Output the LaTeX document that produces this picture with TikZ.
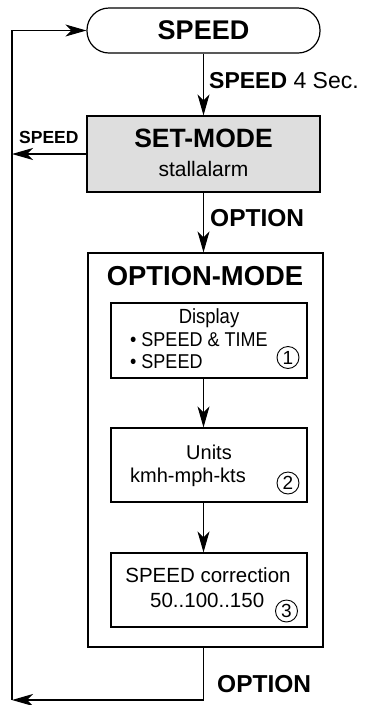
\documentclass[tikz,border=0pt]{standalone}
\usepackage{fontspec}
\setmainfont{Liberation Sans}
\newfontfamily\narrowfont[FakeStretch=0.9]{Liberation Sans}
\usetikzlibrary{arrows.meta}
\tikzset{
  x=1pt,y=-1pt,
  arr/.style={line width=1.2pt,-{Stealth[length=21pt,width=12pt,inset=6pt]}},
  box/.style={draw,line width=1.2pt,rectangle,inner sep=0pt},
  txt/.style={inner sep=0pt,anchor=base},
  circnum/.style={circle,draw,line width=0.9pt,inner sep=0pt,minimum size=22pt,font=\fontsize{19}{19}\selectfont}
}
\begin{document}
\begin{tikzpicture}
\useasboundingbox (0,0) rectangle (365,705);
% main nodes
\node[box,rounded corners=22pt,minimum width=233pt,minimum height=45pt] (speed) at (203.5,30.5) {};
\node[box,fill=black!13,minimum width=233pt,minimum height=76pt] (set) at (203.5,154) {};
\node[box,minimum width=235pt,minimum height=394pt] (opt) at (205.5,450) {};
\node[box,minimum width=196pt,minimum height=75pt] (b1) at (209,340.5) {};
\node[box,minimum width=196pt,minimum height=74pt] (b2) at (209,465) {};
\node[box,minimum width=196pt,minimum height=74pt] (b3) at (209,590) {};
% texts
\node[txt,font=\bfseries\fontsize{27}{27}\selectfont] (tspeed) at (203.5,39) {SPEED};
\node[txt,font=\bfseries\fontsize{26.5}{26.5}\selectfont] (tset) at (203.5,147.5) {SET-MODE};
\node[txt,font=\fontsize{21}{21}\selectfont] (tstall) at (203.5,176) {stallalarm};
\node[txt,font=\bfseries\fontsize{27.4}{27.4}\selectfont] (topt) at (205,285) {OPTION-MODE};
\node[txt,font=\narrowfont\fontsize{20.5}{20.5}\selectfont] (tdisp) at (209,323.5) {Display};
\node[txt,anchor=base west,font=\narrowfont\fontsize{20}{20}\selectfont] (tst) at (130,346) {\textbullet\ SPEED \& TIME};
\node[txt,anchor=base west,font=\narrowfont\fontsize{20}{20}\selectfont] (tsp) at (130,368.5) {\textbullet\ SPEED};
\node[circnum] (c1) at (288,357.5) {1};
\node[txt,font=\fontsize{20}{20}\selectfont] (tunits) at (209,459) {Units};
\node[txt,font=\fontsize{20}{20}\selectfont] (tkmh) at (188,482) {kmh-mph-kts};
\node[circnum] (c2) at (288,483) {2};
\node[txt,font=\fontsize{20.5}{20.5}\selectfont] (tcorr) at (208,582.5) {SPEED correction};
\node[txt,anchor=base west,font=\fontsize{20.5}{20.5}\selectfont] (tnum) at (150,607.5) {50..100..150};
\node[circnum] (c3) at (286.5,611) {3};
% labels
\node[txt,anchor=base west,font=\fontsize{23}{23}\selectfont] (l1) at (209,88) {\textbf{SPEED} 4 Sec.};
\node[txt,anchor=base west,font=\bfseries\fontsize{17.5}{17.5}\selectfont] (l2) at (19,143) {SPEED};
\node[txt,anchor=base west,font=\bfseries\fontsize{24.5}{24.5}\selectfont] (l3) at (210,226) {OPTION};
\node[txt,anchor=base west,font=\bfseries\fontsize{24.5}{24.5}\selectfont] (l4) at (217,692.5) {OPTION};
% connectors
\coordinate (L) at (12,700);
\draw[arr] (speed.south) -- (set.north);
\draw[arr] (set.west) -- (set.west -| L);
\draw[arr] (set.south) -- (set.south |- opt.north);
\draw[arr] (b1.south -| set.south) -- (b2.north -| set.south);
\draw[arr] (b2.south -| set.south) -- (b3.north -| set.south);
\draw[arr] (opt.south -| set.south) |- (L);
\draw[arr] (L) |- (speed.west);
\end{tikzpicture}
\end{document}
